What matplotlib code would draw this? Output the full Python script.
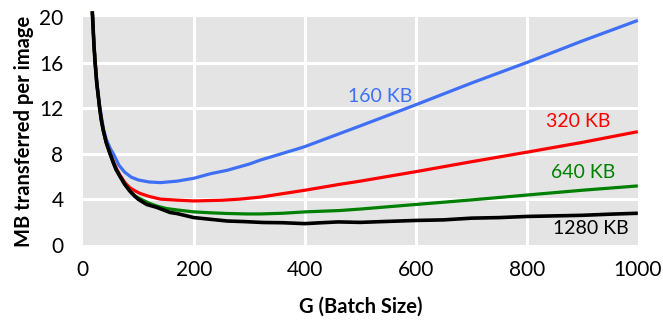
import matplotlib
matplotlib.use("Agg")
import matplotlib.pyplot as plt

plt.rcParams['font.family'] = ['Lato', 'DejaVu Sans']

# Data (G = batch size, y = MB transferred per image)
g_160 = [17, 20, 25, 30, 37, 42, 49, 56, 65, 75, 87, 100, 120, 140, 170, 200, 230,
         260, 300, 320, 385, 400, 500, 600, 700, 805, 900, 1000]
mb_160 = [20.5, 17.6, 14.4, 12.3, 10.2, 9.3, 8.5, 7.9, 7.0, 6.4, 5.95, 5.7, 5.52, 5.47,
          5.6, 5.85, 6.25, 6.55, 7.1, 7.45, 8.4, 8.63, 10.45, 12.3, 14.2, 16.1, 17.9, 19.7]

g_320 = [17, 20, 25, 30, 37, 42, 49, 55, 60, 67, 76, 85, 95, 103, 120, 140, 170, 200,
         250, 283, 320, 400, 463, 500, 600, 700, 805, 900, 1000]
mb_320 = [20.5, 17.5, 14.2, 12.1, 10.0, 9.0, 8.0, 7.3, 6.75, 6.12, 5.45, 5.0, 4.72, 4.52,
          4.25, 4.02, 3.93, 3.86, 3.92, 4.02, 4.2, 4.8, 5.32, 5.6, 6.43, 7.3, 8.18, 9.0, 9.94]

g_640 = [17, 20, 22, 25, 30, 33, 37, 42, 49, 55, 60, 67, 75, 85, 94, 103, 120, 133, 150,
         170, 200, 230, 260, 295, 320, 360, 400, 463, 500, 600, 700, 805, 900, 1000]
mb_640 = [20.5, 17.5, 16.0, 14.2, 12.1, 11.0, 10.0, 9.0, 8.0, 7.2, 6.6, 6.0, 5.35, 4.72,
          4.3, 4.05, 3.65, 3.42, 3.2, 3.07, 2.9, 2.82, 2.76, 2.72, 2.72, 2.78, 2.9, 3.02,
          3.15, 3.55, 3.95, 4.4, 4.8, 5.18]

g_1280 = [17, 20, 22, 25, 30, 33, 37, 42, 49, 55, 60, 67, 75, 85, 94, 100, 115, 133, 157,
          170, 200, 230, 260, 290, 325, 360, 400, 430, 460, 500, 540, 600, 650, 700, 750,
          800, 850, 900, 950, 1000]
mb_1280 = [20.5, 17.5, 16.0, 14.2, 12.1, 11.0, 10.0, 9.0, 8.0, 7.2, 6.6, 6.0, 5.35, 4.7,
           4.25, 4.0, 3.55, 3.3, 2.85, 2.75, 2.4, 2.25, 2.1, 2.05, 1.97, 1.95, 1.87, 1.95,
           2.02, 1.98, 2.05, 2.15, 2.2, 2.35, 2.4, 2.5, 2.55, 2.6, 2.7, 2.78]

series_labels = ["160 KB", "320 KB", "640 KB", "1280 KB"]
label_pos_g = [535, 892, 901, 916]
label_pos_mb = [13.0, 10.8, 6.35, 1.45]

x_ticks = [0, 200, 400, 600, 800, 1000]
y_ticks = [0, 4, 8, 12, 16, 20]

colors = ['#3f6ff5', '#ff0000', '#008000', '#000000']

fig = plt.figure(figsize=(6.63, 3.24), dpi=100)
ax = fig.add_axes([0.125, 0.244, 0.837, 0.7035])
ax.set_facecolor('#e4e4e4')
ax.set_xlim(0, 1000)
ax.set_ylim(0, 20)
for s in ax.spines.values():
    s.set_visible(False)

for xv in x_ticks[1:-1]:
    ax.axvline(xv, color='white', lw=2.2, zorder=1)
for yv in y_ticks[1:-1]:
    ax.axhline(yv, color='white', lw=2.2, zorder=1)

series = [(g_160, mb_160), (g_320, mb_320), (g_640, mb_640), (g_1280, mb_1280)]
widths = [2.3, 2.3, 2.3, 2.6]
for (g, m), c, w in zip(series, colors, widths):
    ax.plot(g, m, color=c, lw=w, zorder=3, clip_on=False, solid_capstyle='butt')

for t, gx, my, c in zip(series_labels, label_pos_g, label_pos_mb, colors):
    ax.text(gx, my, t, color=c, fontsize=14, ha='center', va='center', zorder=4)

ax.set_xticks(x_ticks)
ax.set_yticks(y_ticks)
ax.tick_params(length=0, labelsize=15)
ax.tick_params(axis='y', pad=14)
ax.tick_params(axis='x', pad=11)
ax.set_xlabel('G (Batch Size)', fontsize=14.5, fontweight='bold', labelpad=12)
ax.set_ylabel('MB transferred per image', fontsize=14.5, fontweight='bold', labelpad=4)

fig.savefig('out.png', dpi=100)
